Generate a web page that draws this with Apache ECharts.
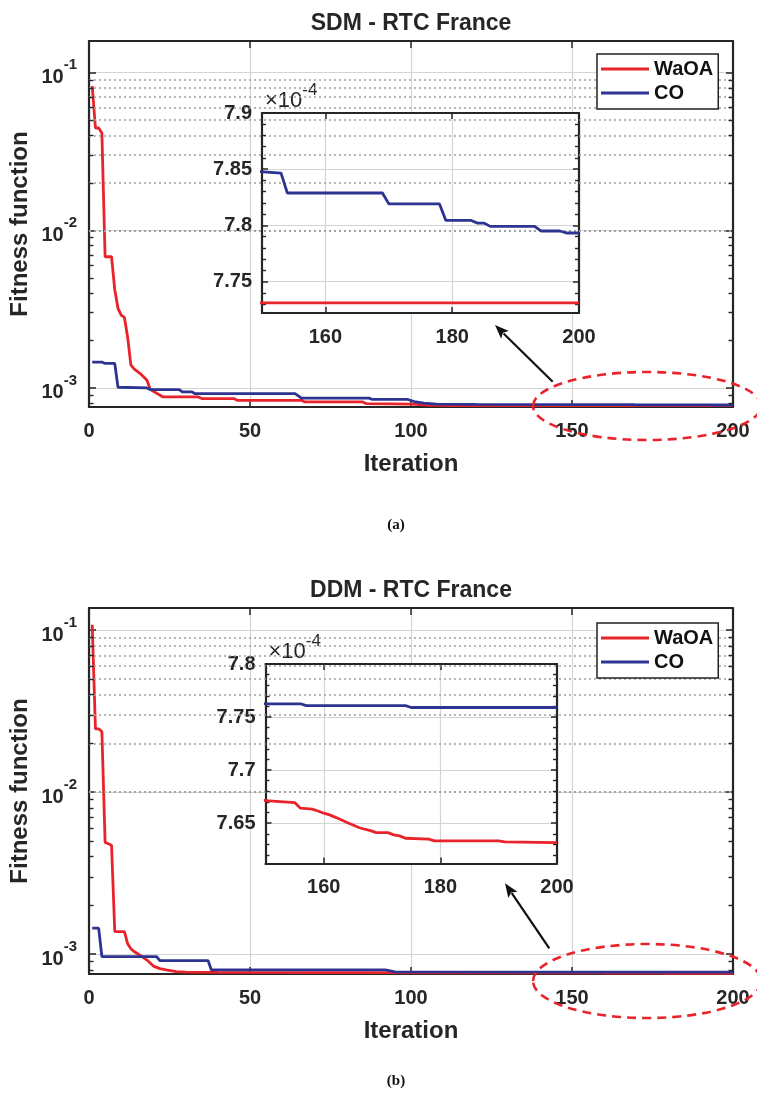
<!DOCTYPE html>
<html>
<head>
<meta charset="utf-8">
<script src="https://cdn.jsdelivr.net/npm/echarts@6.0.0/dist/echarts.min.js"></script>
<style>
  html, body { margin: 0; padding: 0; background: #fff; }
  #chart { width: 757px; height: 1103px; }
</style>
</head>
<body>
<div id="chart"></div>
<script>
// Convergence curves: [iteration, fitness] vertices
const sdmWaOA = [[1,0.0824],[2,0.0446],[3,0.0446],[4,0.0415],[5,0.0068],[7,0.0068],[8,0.0042],[9,0.0032],[10,0.0029],[11,0.0028],[12,0.0021],[13,0.0014],[14,0.00132],[16,0.00123],[18,0.00112],[19,0.00098],[21,0.000925],[23,0.000877],[34,0.000877],[35,0.000856],[45,0.000856],[46,0.000835],[66,0.000835],[67,0.000815],[85,0.000815],[86,0.000796],[100,0.00079],[105,0.000778],[112,0.0007731],[200,0.0007731]];
const sdmCO = [[1,0.00146],[4,0.00146],[5,0.00143],[8,0.00143],[9,0.00101],[18,0.001],[19,0.000977],[28,0.000977],[29,0.000943],[32,0.000943],[33,0.00092],[64,0.00092],[66,0.000862],[87,0.000862],[88,0.000845],[99,0.000845],[101,0.00082],[104,0.0008],[108,0.00079],[120,0.000786],[153,0.00078465],[154,0.00078288],[169,0.00078288],[170,0.00078191],[178,0.00078191],[179,0.00078044],[183,0.00078044],[184,0.0007802],[185,0.0007802],[186,0.00077991],[193,0.00077991],[194,0.0007795],[197,0.0007795],[198,0.00077932],[200,0.00077932]];
const ddmWaOA = [[1,0.108],[2,0.0246],[3,0.0246],[4,0.0237],[5,0.0049],[6,0.0048],[7,0.0047],[8,0.00138],[11,0.00138],[12,0.00116],[13,0.00108],[14,0.00104],[15,0.00101],[16,0.00098],[18,0.00092],[20,0.000845],[22,0.000815],[24,0.0008],[27,0.000782],[30,0.000776],[40,0.000772],[80,0.00077],[120,0.000768],[150,0.00076713],[155,0.00076694],[156,0.00076641],[158,0.00076632],[159,0.00076615],[160,0.00076594],[161,0.00076578],[162,0.00076555],[164,0.00076506],[166,0.00076459],[167,0.00076443],[168,0.0007643],[169,0.00076411],[171,0.00076411],[172,0.0007639],[173,0.0007638],[174,0.00076358],[178,0.00076349],[179,0.00076333],[190,0.00076333],[191,0.00076324],[200,0.00076317]];
const ddmCO = [[1,0.00145],[3,0.00145],[4,0.000967],[21,0.000967],[22,0.000912],[37,0.000912],[38,0.0008],[92,0.0008],[95,0.000778],[150,0.00077625],[156,0.00077625],[157,0.00077607],[174,0.00077607],[175,0.0007759],[200,0.0007759]];

// Tick values
const zoomXTicks = [160, 180, 200];
const sdmZoomYTicks = [7.75e-4, 7.8e-4, 7.85e-4, 7.9e-4];
const ddmZoomYTicks = [7.65e-4, 7.7e-4, 7.75e-4, 7.8e-4];
const logMinor = [8e-4, 9e-4, 2e-3, 3e-3, 4e-3, 5e-3, 6e-3, 7e-3, 8e-3, 9e-3, 2e-2, 3e-2, 4e-2, 5e-2, 6e-2, 7e-2, 8e-2, 9e-2];
const sdmZoomMinor = [7.73e-4, 7.74e-4, 7.76e-4, 7.77e-4, 7.78e-4, 7.79e-4, 7.81e-4, 7.82e-4, 7.83e-4, 7.84e-4, 7.86e-4, 7.87e-4, 7.88e-4, 7.89e-4];
const ddmZoomMinor = [7.62e-4, 7.63e-4, 7.64e-4, 7.66e-4, 7.67e-4, 7.68e-4, 7.69e-4, 7.71e-4, 7.72e-4, 7.73e-4, 7.74e-4, 7.76e-4, 7.77e-4, 7.78e-4, 7.79e-4];

const FONT = 'Liberation Sans';
const AX = '#262626';
const MAJOR = '#d4d4d4';
const MINOR = '#a0a0a0';
const RED = '#e8232a';
const BLUE = '#2c3391';

const panels = [
  {
    title: 'SDM - RTC France', caption: '(a)', captionY: 525,
    rect: { left: 89, top: 41, width: 644, height: 366 }, yMin: 7.57e-4, yMax: 0.159,
    waoa: sdmWaOA, co: sdmCO, legendTop: 54,
    inset: { rect: { left: 262, top: 113, width: 317, height: 200 }, yMin: 7.722e-4, yMax: 7.9e-4,
             yTicks: sdmZoomYTicks, minor: sdmZoomMinor },
    ellipse: { cx: 647, cy: 406, rx: 114, ry: 34 }, arrow: [552.7, 381.7, 495, 325]
  },
  {
    title: 'DDM - RTC France', caption: '(b)', captionY: 1081,
    rect: { left: 89, top: 608, width: 644, height: 366 }, yMin: 7.55e-4, yMax: 0.137,
    waoa: ddmWaOA, co: ddmCO, legendTop: 623,
    inset: { rect: { left: 265.5, top: 664, width: 291.5, height: 199.5 }, yMin: 7.612e-4, yMax: 7.8e-4,
             yTicks: ddmZoomYTicks, minor: ddmZoomMinor },
    ellipse: { cx: 647, cy: 981, rx: 114, ry: 37 }, arrow: [549.3, 948.3, 505, 883.3]
  }
];

const labelFont = { fontFamily: FONT, fontWeight: 'bold', fontSize: 20, color: AX };

function powLabel(v) {
  const e = Math.log10(v);
  const r = Math.round(e);
  if (Math.abs(e - r) > 1e-6) return '';
  return '{b|10}{s|' + r + '}';
}

const powRich = {
  b: { fontFamily: FONT, fontWeight: 'bold', fontSize: 20, lineHeight: 20, verticalAlign: 'bottom', color: AX },
  s: { fontFamily: FONT, fontWeight: 'bold', fontSize: 15, lineHeight: 30, verticalAlign: 'top', color: AX }
};

function axisLine() { return { show: true, onZero: false, lineStyle: { color: AX, width: 2.2 } }; }
function ticks(len, custom) {
  const t = { show: true, inside: true, length: len, lineStyle: { color: AX, width: 1.5 } };
  if (custom) t.customValues = custom;
  return t;
}

// dotted minor grid lines plus short minor ticks on both vertical edges
function minorMarks(values, xMin, xMax, tickLen) {
  const data = [];
  values.forEach(v => {
    data.push({ yAxis: v, lineStyle: { type: [2, 3], color: MINOR, width: 1.5 } });
    data.push([{ coord: [xMin, v], lineStyle: { type: 'solid', color: AX, width: 1.4 } }, { coord: [xMin + tickLen, v] }]);
    data.push([{ coord: [xMax - tickLen, v], lineStyle: { type: 'solid', color: AX, width: 1.4 } }, { coord: [xMax, v] }]);
  });
  return { silent: true, symbol: ['none', 'none'], label: { show: false }, emphasis: { disabled: true }, animation: false, data };
}

function arrow(x1, y1, x2, y2) {
  const dx = x2 - x1, dy = y2 - y1, L = Math.hypot(dx, dy), ux = dx / L, uy = dy / L;
  const hl = 14, hw = 5.5;
  const bx = x2 - ux * hl, by = y2 - uy * hl;
  return [
    { type: 'line', z: 20, shape: { x1: x1, y1: y1, x2: bx + ux * 2, y2: by + uy * 2 }, style: { stroke: '#111', lineWidth: 2.2 } },
    { type: 'polygon', z: 20, shape: { points: [[x2, y2], [bx - uy * hw, by + ux * hw], [bx + ux * 3, by + uy * 3], [bx + uy * hw, by - ux * hw]] }, style: { fill: '#111' } }
  ];
}

const option = {
  animation: false,
  backgroundColor: '#fff',
  textStyle: { fontFamily: FONT },
  grid: [], xAxis: [], yAxis: [], series: [], legend: [], graphic: []
};

panels.forEach(p => {
  const gMain = option.grid.length;
  option.grid.push(Object.assign({ show: false, outerBoundsMode: 'none', containLabel: false, z: 0 }, p.rect));
  const gInset = option.grid.length;
  option.grid.push(Object.assign({ show: true, backgroundColor: '#fff', borderWidth: 0, borderColor: 'transparent',
    outerBoundsMode: 'none', containLabel: false, z: 3 }, p.inset.rect));

  const xb = option.xAxis.length;
  option.xAxis.push({
    type: 'value', gridIndex: gMain, position: 'bottom', min: 0, max: 200, interval: 50,
    axisLine: axisLine(), axisTick: ticks(7), axisLabel: Object.assign({ margin: 14 }, labelFont),
    splitLine: { show: true, lineStyle: { color: MAJOR, width: 1.2 } },
    name: 'Iteration', nameLocation: 'middle', nameGap: 45, nameMoveOverlap: false,
    nameTextStyle: { fontFamily: FONT, fontWeight: 'bold', fontSize: 24, color: AX }
  });
  option.xAxis.push({
    type: 'value', gridIndex: gMain, position: 'top', min: 0, max: 200, interval: 50,
    axisLine: axisLine(), axisTick: ticks(7), axisLabel: { show: false }, splitLine: { show: false },
    name: p.title, nameLocation: 'middle', nameGap: 6, nameMoveOverlap: false,
    nameTextStyle: { fontFamily: FONT, fontWeight: 'bold', fontSize: 23, color: AX }
  });
  option.xAxis.push({
    type: 'value', gridIndex: gInset, position: 'bottom', min: 150, max: 200, z: 4,
    axisLine: axisLine(), axisTick: ticks(6, zoomXTicks),
    axisLabel: Object.assign({ margin: 14, customValues: zoomXTicks }, labelFont),
    splitLine: { show: true, lineStyle: { color: MAJOR, width: 1.2 } }
  });
  option.xAxis.push({
    type: 'value', gridIndex: gInset, position: 'top', min: 150, max: 200, z: 4,
    axisLine: axisLine(), axisTick: ticks(6, zoomXTicks), axisLabel: { show: false }, splitLine: { show: false }
  });

  const yb = option.yAxis.length;
  option.yAxis.push({
    type: 'log', logBase: 10, gridIndex: gMain, position: 'left', min: p.yMin, max: p.yMax,
    axisLine: axisLine(), axisTick: ticks(7),
    axisLabel: { margin: 12, formatter: powLabel, rich: powRich },
    splitLine: { show: true, lineStyle: { color: MAJOR, width: 1.2 } },
    name: 'Fitness function', nameLocation: 'middle', nameGap: 57, nameMoveOverlap: false,
    nameTextStyle: { fontFamily: FONT, fontWeight: 'bold', fontSize: 24, color: AX }
  });
  option.yAxis.push({
    type: 'log', logBase: 10, gridIndex: gMain, position: 'right', min: p.yMin, max: p.yMax,
    axisLine: axisLine(), axisTick: ticks(7), axisLabel: { show: false }, splitLine: { show: false }
  });
  option.yAxis.push({
    type: 'value', gridIndex: gInset, position: 'left', min: p.inset.yMin, max: p.inset.yMax, z: 4,
    axisLine: axisLine(), axisTick: ticks(6, p.inset.yTicks),
    axisLabel: Object.assign({ margin: 10, customValues: p.inset.yTicks,
      formatter: v => String(+(v * 1e4).toFixed(2)) }, labelFont),
    splitLine: { show: true, lineStyle: { color: MAJOR, width: 1.2 } },
    name: '{b|×10}{s|-4}', nameLocation: 'end', nameGap: 1, nameMoveOverlap: false,
    nameTextStyle: { align: 'left', padding: [0, 0, 0, 3], rich: {
      b: { fontFamily: FONT, fontSize: 22, lineHeight: 30, verticalAlign: 'bottom', color: AX },
      s: { fontFamily: FONT, fontSize: 17, lineHeight: 12, verticalAlign: 'top', color: AX }
    } }
  });
  option.yAxis.push({
    type: 'value', gridIndex: gInset, position: 'right', min: p.inset.yMin, max: p.inset.yMax, z: 4,
    axisLine: axisLine(), axisTick: ticks(6, p.inset.yTicks), axisLabel: { show: false }, splitLine: { show: false }
  });

  const mainTick = 4.5 * 200 / p.rect.width;
  const insetTick = 4 * 50 / p.inset.rect.width;
  const line = (name, data, color, xi, yi, z, marks) => {
    const s = { type: 'line', name, data, xAxisIndex: xi, yAxisIndex: yi, z,
      showSymbol: false, symbol: 'none', clip: true, color,
      lineStyle: { color, width: 2.8 }, emphasis: { disabled: true } };
    if (marks) s.markLine = marks;
    return s;
  };
  option.series.push(line('WaOA', p.waoa, RED, xb, yb, 2, minorMarks(logMinor.filter(v => v > p.yMin && v < p.yMax), 0, 200, mainTick)));
  option.series.push(line('CO', p.co, BLUE, xb, yb, 2));
  option.series.push(line('WaOA', p.waoa, RED, xb + 2, yb + 2, 5, minorMarks(p.inset.minor, 150, 200, insetTick)));
  option.series.push(line('CO', p.co, BLUE, xb + 2, yb + 2, 5));

  option.legend.push({
    data: ['WaOA', 'CO'], orient: 'vertical', left: 597, top: p.legendTop, z: 10,
    icon: 'rect', itemWidth: 48, itemHeight: 3, itemGap: 4, padding: [5, 5, 6, 4],
    backgroundColor: '#fff', borderColor: '#222', borderWidth: 1.5, borderRadius: 0, selectedMode: false,
    textStyle: { fontFamily: FONT, fontWeight: 'bold', fontSize: 20, color: '#111' }
  });

  option.graphic.push({
    type: 'ellipse', z: 20, shape: p.ellipse,
    style: { fill: null, stroke: RED, lineWidth: 2.6, lineDash: [9, 6] }
  });
  option.graphic.push(...arrow(...p.arrow));
  option.graphic.push({
    type: 'text', z: 20, x: 396, y: p.captionY,
    style: { text: p.caption, font: 'bold 15px "Liberation Serif"', fill: '#111', align: 'center', verticalAlign: 'middle' }
  });
});

const chart = echarts.init(document.getElementById('chart'), null, { renderer: 'canvas' });
chart.setOption(option);
</script>
</body>
</html>
